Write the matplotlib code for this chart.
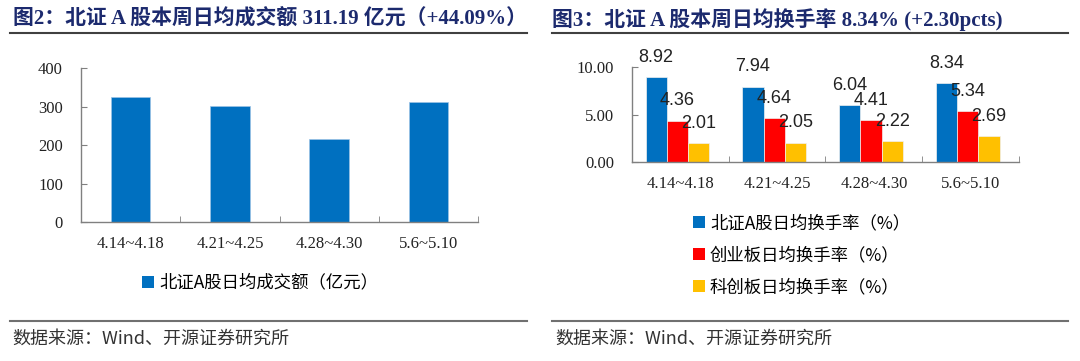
import numpy as np
import matplotlib
matplotlib.use('Agg')
import matplotlib.pyplot as plt
from matplotlib.lines import Line2D
from matplotlib.patches import Patch

weeks = ['4.14~4.18', '4.21~4.25', '4.28~4.30', '5.6~5.10']
turnover = [326.0, 301.0, 216.0, 311.19]
rate_bz = [8.92, 7.94, 6.04, 8.34]
rate_cyb = [4.36, 4.64, 4.41, 5.34]
rate_kcb = [2.01, 2.05, 2.22, 2.69]

title_left = '图2：北证 A 股本周日均成交额 311.19 亿元（+44.09%）'
title_right = '图3：北证 A 股本周日均换手率 8.34% (+2.30pcts)'
legend_left = ['北证A股日均成交额（亿元）']
legend_right = ['北证A股日均换手率（%）', '创业板日均换手率（%）', '科创板日均换手率（%）']
source = '数据来源：Wind、开源证券研究所'

serif = ['Liberation Serif', 'Noto Sans CJK SC']
cjk = ['Noto Sans CJK SC', 'Liberation Serif']
blue, red, yellow = '#0070C0', '#FF0000', '#FFC000'
axis_c = '#808080'
navy = '#1c2a6e'

fig = plt.figure(figsize=(10.8, 3.61), dpi=100)


def style_axes(ax):
    for s in ['top', 'right']:
        ax.spines[s].set_visible(False)
    for s in ['left', 'bottom']:
        ax.spines[s].set_color(axis_c)
        ax.spines[s].set_linewidth(1.0)
    ax.tick_params(axis='y', direction='in', length=4, color=axis_c, pad=13)
    ax.tick_params(axis='x', which='major', length=0, pad=10)
    ax.tick_params(axis='x', which='minor', direction='in', length=4, color=axis_c)
    ax.set_xticks(np.arange(-0.5, 4, 1), minor=True)
    for lab in ax.get_xticklabels() + ax.get_yticklabels():
        lab.set_family(serif)
        lab.set_fontsize(12)
        lab.set_color('#222222')


# left chart
ax1 = fig.add_axes([0.075, 0.385, 0.3676, 0.4266])
x = np.arange(len(weeks))
ax1.bar(x, turnover, width=0.4, color=blue, edgecolor='#9dc3e6', linewidth=0.5)
ax1.set_xlim(-0.5, 3.5)
ax1.set_ylim(0, 400)
ax1.set_yticks([0, 100, 200, 300, 400])
ax1.set_xticks(x)
ax1.set_xticklabels(weeks)
style_axes(ax1)

h1 = [Patch(facecolor=blue)]
fig.legend(h1, legend_left, loc='center', bbox_to_anchor=(0.241, 0.217),
           frameon=False, prop={'family': cjk, 'size': 12.5},
           handlelength=0.7, handleheight=0.7, handletextpad=0.3)

# right chart
ax2 = fig.add_axes([0.5852, 0.5512, 0.3583, 0.2632])
w = 0.22
series = [(rate_bz, blue, -w), (rate_cyb, red, 0), (rate_kcb, yellow, w)]
for vals, c, off in series:
    bars = ax2.bar(x + off - 0.03, vals, width=w, color=c, edgecolor='#f0f0f0', linewidth=0.5)
    for b, v in zip(bars, vals):
        ax2.annotate('%.2f' % v, (b.get_x() + b.get_width() / 2, v),
                     xytext=(0, 8), textcoords='offset points',
                     ha='center', va='bottom', fontsize=13,
                     family='Liberation Sans', color='#222222',
                     annotation_clip=False)
ax2.set_xlim(-0.5, 3.5)
ax2.set_ylim(0, 10)
ax2.set_yticks([0, 5, 10])
ax2.set_yticklabels(['0.00', '5.00', '10.00'])
ax2.set_xticks(x)
ax2.set_xticklabels(weeks)
style_axes(ax2)

h2 = [Patch(facecolor=c) for c in [blue, red, yellow]]
fig.legend(h2, legend_right, loc='center', bbox_to_anchor=(0.742, 0.293),
           frameon=False, prop={'family': cjk, 'size': 12.5}, labelspacing=0.8,
           handlelength=0.7, handleheight=0.7, handletextpad=0.3)

# titles, rules, footers
fig.text(0.012, 0.945, title_left, family=serif, fontsize=15, fontweight='bold',
         color=navy, va='center')
fig.text(0.511, 0.945, title_right, family=serif, fontsize=15, fontweight='bold',
         color=navy, va='center')
for x0, x1 in [(10, 527), (552, 1068)]:
    fig.add_artist(Line2D([x0 / 1080, x1 / 1080], [0.9086, 0.9086],
                          transform=fig.transFigure, color='#404040', lw=1.5))
    fig.add_artist(Line2D([x0 / 1080, x1 / 1080], [0.1108, 0.1108],
                          transform=fig.transFigure, color='#707070', lw=1.5))
fig.text(0.011, 0.062, source, family=cjk, fontsize=13, color='#333333', va='center')
fig.text(0.514, 0.062, source, family=cjk, fontsize=13, color='#333333', va='center')

plt.savefig('out.png', dpi=100)
